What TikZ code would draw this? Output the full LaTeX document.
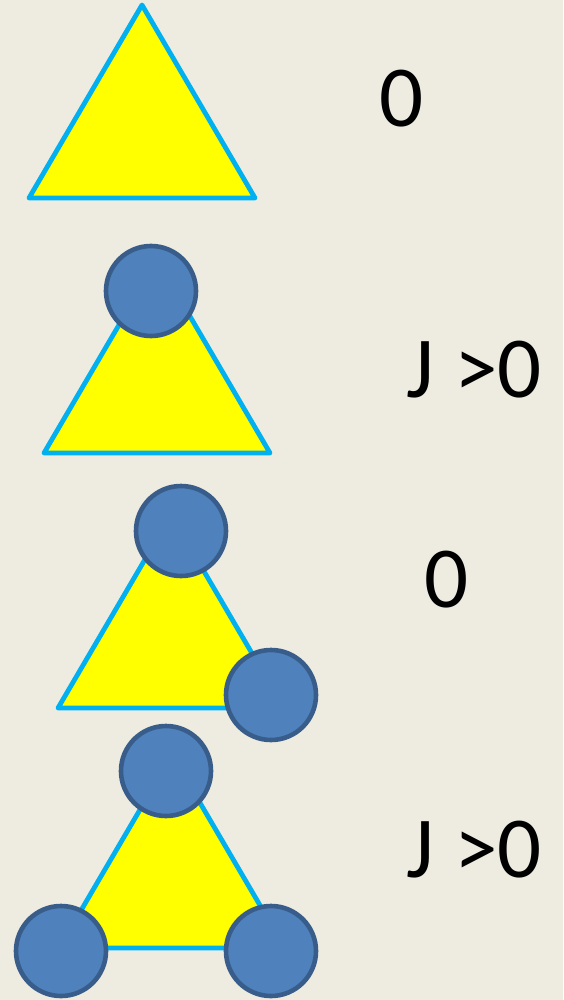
\documentclass[tikz,border=0pt]{standalone}
\usepackage{fontspec}
\setmainfont{Carlito}
\usepackage{tikz}
\definecolor{bgcolor}{RGB}{238,236,225}
\definecolor{edgecolor}{RGB}{0,176,240}
\definecolor{plaqfill}{RGB}{255,255,0}
\definecolor{spincolor}{RGB}{79,129,189}
\definecolor{spinline}{RGB}{56,93,138}

\begin{document}
\begin{tikzpicture}[x=0.5pt,y=-0.5pt,
  plaq/.style={fill=plaqfill,draw=edgecolor,line width=2.4pt,line join=round},
  spin/.style={circle,fill=spincolor,draw=spinline,line width=2.3pt,minimum size=45pt,inner sep=0pt},
  lab/.style={font=\fontsize{43.5}{52}\selectfont,anchor=base,inner sep=0pt}]
  \fill[bgcolor] (0,0) rectangle (563,1000);
  % the four triangles, apex x / base y
  \foreach \cx/\by in {142/198,157/453,171/708,172/948}
    \draw[plaq] (\cx,\by-193) -- ++(113,193) -- ++(-226,0) -- cycle;
  % spins on the corners
  \node[spin] (a1) at (151,291) {};
  \node[spin] (b1) at (181,531) {};
  \node[spin] (b2) at (271,695) {};
  \node[spin] (c1) at (166,771) {};
  \node[spin] (c2) at (61,951) {};
  \node[spin] (c3) at (271,951) {};
  % energies
  \node[lab] (e0) at (402,127) {0};
  \node[lab] (e1) at (474,397) {J >0};
  \node[lab] (e2) at (447,607) {0};
  \node[lab] (e3) at (474,877) {J >0};
\end{tikzpicture}
\end{document}
